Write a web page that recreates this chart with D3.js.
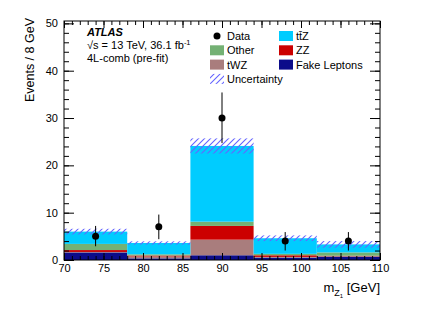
<!DOCTYPE html>
<html>
<head>
<meta charset="utf-8">
<script src="https://cdn.jsdelivr.net/npm/d3@7"></script>
<style>
  body { margin: 0; background: #fff; }
  text { font-family: "Liberation Sans", Arial, Helvetica, sans-serif; fill: #000; }
</style>
</head>
<body>
<svg id="chart"></svg>
<script>
// bins of m_Z1 [GeV]
const binEdges = [70, 78, 86, 94, 102, 110];
// stacked backgrounds, bottom to top
const fakeLeptons = [1.6, 0.35, 1.0, 0.5, 0.7];
const tWZ = [0.1, 0.4, 3.3, 0.15, 0.1];
const zz = [0.4, 0.2, 2.9, 0.35, 0.1];
const other = [1.3, 0.25, 0.9, 0.3, 0.7];
const ttZ = [2.6, 2.4, 16.0, 3.3, 1.7];
const uncertainty = [0.6, 0.35, 1.6, 0.6, 0.7];
// data points
const dataX = [74, 82, 90, 98, 106];
const dataY = [5, 7, 30, 4, 4];
const dataHi = [7.2, 9.6, 35.4, 5.9, 5.9];
const dataLo = [2.9, 4.4, 24.7, 2.0, 2.0];
const xTicks = [70, 75, 80, 85, 90, 95, 100, 105, 110];
const yTicks = [0, 10, 20, 30, 40, 50];

const keys = ['fake', 'twz', 'zz', 'other', 'ttz'];
const colors = {fake: '#0c0c8a', twz: '#a97d7d', zz: '#cc0000', other: '#74b174', ttz: '#00ccff'};
const hatchColor = '#6464ff';

var size = {width: 432, height: 310, margin: {top: 21, right: 52, bottom: 50, left: 64}};
var margin = size.margin;
var width = size.width - margin.left - margin.right;
var height = size.height - margin.top - margin.bottom;

var rows = binEdges.slice(0, -1).map((lo, i) => ({
  lo: lo, hi: binEdges[i + 1],
  fake: fakeLeptons[i], twz: tWZ[i], zz: zz[i], other: other[i], ttz: ttZ[i],
  unc: uncertainty[i]
}));
rows.forEach(d => { d.total = keys.reduce((s, k) => s + d[k], 0); });

var x = d3.scaleLinear().domain([70, 110]).range([0, width]);
var y = d3.scaleLinear().domain([0, 50.5]).range([height, 0]);

var svg = d3.select('#chart')
  .attr('width', size.width)
  .attr('height', size.height);

var defs = svg.append('defs');
var pat = defs.append('pattern')
  .attr('id', 'hatch')
  .attr('patternUnits', 'userSpaceOnUse')
  .attr('width', 6).attr('height', 6);
pat.append('path')
  .attr('d', 'M0,6 L6,0 M-1,1 L1,-1 M5,7 L7,5')
  .attr('stroke', hatchColor)
  .attr('stroke-width', 1.1);

var chart = svg.append('g')
  .attr('transform', `translate(${ margin.left }, ${ margin.top })`);

// stacked histogram
var series = d3.stack().keys(keys)(rows);
chart.selectAll('.layer')
  .data(series)
  .enter().append('g')
  .attr('class', 'layer')
  .attr('fill', d => colors[d.key])
  .selectAll('rect')
  .data(d => d)
  .enter().append('rect')
  .attr('x', d => x(d.data.lo))
  .attr('width', d => x(d.data.hi) - x(d.data.lo))
  .attr('y', d => y(d[1]))
  .attr('height', d => y(d[0]) - y(d[1]));

// uncertainty band
chart.selectAll('.unc')
  .data(rows)
  .enter().append('rect')
  .attr('class', 'unc')
  .attr('fill', 'url(#hatch)')
  .attr('x', d => x(d.lo))
  .attr('width', d => x(d.hi) - x(d.lo))
  .attr('y', d => y(d.total + d.unc))
  .attr('height', d => y(d.total - d.unc) - y(d.total + d.unc));

// axes (ticks inward, drawn over bars)
function styleAxis(g) {
  g.select('.domain').remove();
  g.selectAll('text').style('font-size', '11px').attr('fill', '#000');
  g.selectAll('line').attr('stroke', '#000');
}
chart.append('g').attr('transform', `translate(0, ${ height })`)
  .call(d3.axisBottom(x).tickValues(d3.range(70, 111, 1)).tickSizeInner(-4).tickSizeOuter(0).tickFormat(''))
  .call(styleAxis);
chart.append('g').attr('transform', `translate(0, ${ height })`)
  .call(d3.axisBottom(x).tickValues(xTicks).tickSizeInner(-7).tickSizeOuter(0).tickPadding(4))
  .call(styleAxis);
chart.append('g')
  .call(d3.axisTop(x).tickValues(d3.range(70, 111, 1)).tickSizeInner(-4).tickSizeOuter(0).tickFormat(''))
  .call(styleAxis);
chart.append('g')
  .call(d3.axisTop(x).tickValues(xTicks).tickSizeInner(-7).tickSizeOuter(0).tickFormat(''))
  .call(styleAxis);
chart.append('g')
  .call(d3.axisLeft(y).tickValues(d3.range(0, 51, 2)).tickSizeInner(-5).tickSizeOuter(0).tickFormat(''))
  .call(styleAxis);
chart.append('g')
  .call(d3.axisLeft(y).tickValues(yTicks).tickSizeInner(-10).tickSizeOuter(0).tickPadding(6))
  .call(styleAxis);
chart.append('g').attr('transform', `translate(${ width }, 0)`)
  .call(d3.axisRight(y).tickValues(d3.range(0, 51, 2)).tickSizeInner(-5).tickSizeOuter(0).tickFormat(''))
  .call(styleAxis);
chart.append('g').attr('transform', `translate(${ width }, 0)`)
  .call(d3.axisRight(y).tickValues(yTicks).tickSizeInner(-10).tickSizeOuter(0).tickFormat(''))
  .call(styleAxis);

chart.append('rect')
  .attr('width', width).attr('height', height)
  .attr('fill', 'none').attr('stroke', '#000').attr('stroke-width', 1);

// data
var pts = dataX.map((v, i) => ({x: v, y: dataY[i], hi: dataHi[i], lo: dataLo[i]}));
chart.selectAll('.err')
  .data(pts)
  .enter().append('line')
  .attr('class', 'err')
  .attr('x1', d => x(d.x)).attr('x2', d => x(d.x))
  .attr('y1', d => y(d.lo)).attr('y2', d => y(d.hi))
  .attr('stroke', '#000').attr('stroke-width', 1);
chart.selectAll('.pt')
  .data(pts)
  .enter().append('circle')
  .attr('class', 'pt')
  .attr('cx', d => x(d.x)).attr('cy', d => y(d.y))
  .attr('r', 3.5).attr('fill', '#000');

// labels
svg.append('text')
  .attr('transform', 'translate(34, 18) rotate(-90)')
  .attr('text-anchor', 'end')
  .style('font-size', '12.5px')
  .text('Events / 8 GeV');

var xl = svg.append('text')
  .attr('x', margin.left + width).attr('y', 292)
  .attr('text-anchor', 'end')
  .style('font-size', '13px');
xl.append('tspan').text('m');
xl.append('tspan').attr('dy', 4).style('font-size', '9px').text('Z');
xl.append('tspan').attr('dy', 2).style('font-size', '6px').text('1');
xl.append('tspan').attr('dy', -6).text(' [GeV]');

svg.append('text')
  .attr('x', 87).attr('y', 36)
  .style('font-size', '11px').style('font-weight', 'bold').style('font-style', 'italic')
  .text('ATLAS');
var s = svg.append('text').attr('x', 87).attr('y', 49).style('font-size', '11px');
s.append('tspan').text('\u221As = 13 TeV, 36.1 fb');
s.append('tspan').attr('dy', -4).style('font-size', '7.5px').text('-1');
svg.append('text').attr('x', 87).attr('y', 62).style('font-size', '11px')
  .text('4L-comb (pre-fit)');

// legend
const legendItems = [
  {label: 'Data', type: 'data', col: 0, row: 0},
  {label: 'Other', type: 'other', col: 0, row: 1},
  {label: 'tWZ', type: 'twz', col: 0, row: 2},
  {label: 'Uncertainty', type: 'unc', col: 0, row: 3},
  {label: 'tt\u0304Z', type: 'ttz', col: 1, row: 0},
  {label: 'ZZ', type: 'zz', col: 1, row: 1},
  {label: 'Fake Leptons', type: 'fake', col: 1, row: 2}
];
var leg = svg.append('g');
legendItems.forEach(it => {
  var bx = it.col === 0 ? 210 : 279;
  var cy = 36 + it.row * 14.3;
  if (it.type === 'data') {
    leg.append('circle').attr('cx', bx + 7).attr('cy', cy).attr('r', 3.5).attr('fill', '#000');
  } else if (it.type === 'unc') {
    leg.append('rect').attr('x', bx).attr('y', cy - 5).attr('width', 14).attr('height', 10)
      .attr('fill', 'url(#hatch)');
  } else {
    leg.append('rect').attr('x', bx).attr('y', cy - 5).attr('width', 14).attr('height', 10)
      .attr('fill', colors[it.type]);
  }
  leg.append('text').attr('x', bx + 17).attr('y', cy + 4)
    .style('font-size', '11px').text(it.label);
});
</script>
</body>
</html>
